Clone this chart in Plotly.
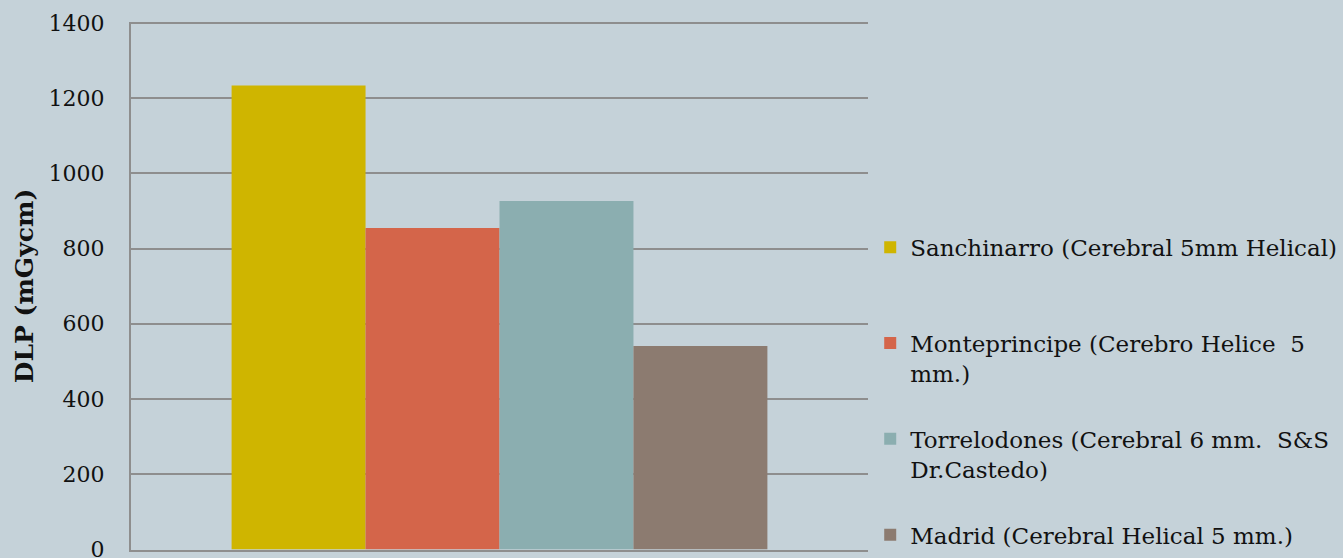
import plotly.graph_objects as go

sites = [
    "Sanchinarro (Cerebral 5mm Helical)<br> ",
    "Monteprincipe (Cerebro Helice  5<br>mm.)",
    "Torrelodones (Cerebral 6 mm.  S&S<br>Dr.Castedo)",
    "Madrid (Cerebral Helical 5 mm.)",
]
dlp = [1234, 855, 927, 541]
colors = ["#CFB500", "#D4654A", "#8BAEB0", "#8C7B70"]
y_ticks = [0, 200, 400, 600, 800, 1000, 1200, 1400]

FONT = "DejaVu Serif"

fig = go.Figure()
for i, (name, val, col) in enumerate(zip(sites, dlp, colors)):
    fig.add_trace(
        go.Bar(
            x=[""],
            y=[val],
            name=name,
            marker_color=col,
            marker_line_width=0,
            legendgroup=f"g{i}",
        )
    )

fig.update_layout(
    width=1343,
    height=558,
    barmode="group",
    bargap=0.273,
    bargroupgap=0,
    paper_bgcolor="#C5D2D9",
    plot_bgcolor="#C5D2D9",
    margin=dict(l=131, r=475, t=22, b=8, autoexpand=False),
    font=dict(family=FONT, size=22, color="#111111"),
    legend=dict(
        x=1.003,
        xanchor="left",
        y=0.614,
        yanchor="top",
        valign="top",
        font=dict(family=FONT, size=23),
        tracegroupgap=33,
        itemwidth=30,
        bgcolor="rgba(0,0,0,0)",
    ),
)

# range padded a little so the 1400 grid line is not dropped at the edge
fig.update_yaxes(
    range=[-2, 1403],
    tickvals=y_ticks,
    showgrid=True,
    gridcolor="#8E8E8E",
    gridwidth=2,
    showline=True,
    linecolor="#8E8E8E",
    linewidth=2,
    zeroline=False,
    ticks="",
    ticklabelstandoff=20,
    ticklabeloverflow="allow",
    title=dict(text="<b>DLP (mGycm)</b>", font=dict(family=FONT, size=25), standoff=8),
)
fig.update_xaxes(
    showline=True,
    linecolor="#8E8E8E",
    linewidth=2,
    showticklabels=False,
    ticks="",
)

fig.write_html(
    "out.html",
    config={"displayModeBar": False},
    post_script="document.body.style.margin='0';",
)
